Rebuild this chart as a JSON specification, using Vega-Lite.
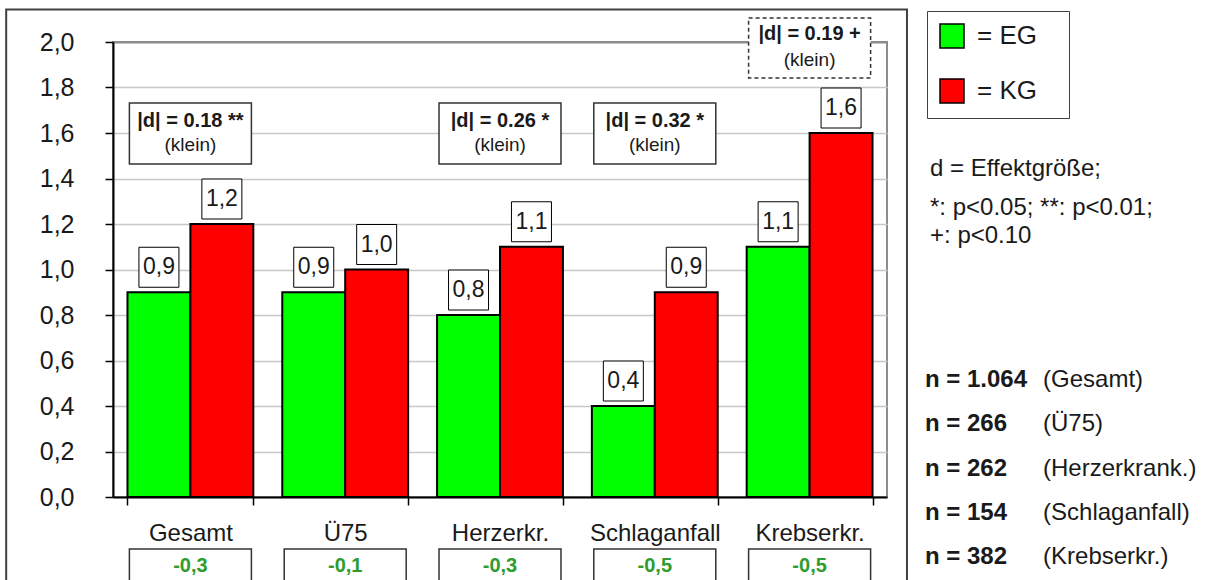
{
  "$schema": "https://vega.github.io/schema/vega-lite/v6.json",
  "width": 774,
  "height": 455,
  "autosize": "none",
  "padding": {"left": 113, "top": 42, "right": 320, "bottom": 83},
  "background": "white",
  "config": {
    "locale": {"number": {"decimal": ",", "thousands": ".", "grouping": [3], "currency": ["", " €"], "minus": "-"}},
    "view": {"stroke": "#8c8c8c", "strokeWidth": 2},
    "font": "Liberation Sans"
  },
  "datasets": {
    "vals": [
      {"cat": "Gesamt", "grp": "EG", "v": 0.9},
      {"cat": "Gesamt", "grp": "KG", "v": 1.2},
      {"cat": "Ü75", "grp": "EG", "v": 0.9},
      {"cat": "Ü75", "grp": "KG", "v": 1.0},
      {"cat": "Herzerkr.", "grp": "EG", "v": 0.8},
      {"cat": "Herzerkr.", "grp": "KG", "v": 1.1},
      {"cat": "Schlaganfall", "grp": "EG", "v": 0.4},
      {"cat": "Schlaganfall", "grp": "KG", "v": 0.9},
      {"cat": "Krebserkr.", "grp": "EG", "v": 1.1},
      {"cat": "Krebserkr.", "grp": "KG", "v": 1.6}
    ],
    "eff": [
      {"cat": "Gesamt", "d": "|d| = 0.18 **", "size": "(klein)"},
      {"cat": "Herzerkr.", "d": "|d| = 0.26 *", "size": "(klein)"},
      {"cat": "Schlaganfall", "d": "|d| = 0.32 *", "size": "(klein)"}
    ],
    "effTrend": [
      {"cat": "Krebserkr.", "d": "|d| = 0.19 +", "size": "(klein)"}
    ],
    "diff": [
      {"cat": "Gesamt", "diff": -0.3},
      {"cat": "Ü75", "diff": -0.1},
      {"cat": "Herzerkr.", "diff": -0.3},
      {"cat": "Schlaganfall", "diff": -0.5},
      {"cat": "Krebserkr.", "diff": -0.5}
    ],
    "ns": [
      {"cat": "Gesamt", "n": "n = 1.064", "grp": "(Gesamt)"},
      {"cat": "Ü75", "n": "n = 266", "grp": "(Ü75)"},
      {"cat": "Herzerkr.", "n": "n = 262", "grp": "(Herzerkrank.)"},
      {"cat": "Schlaganfall", "n": "n = 154", "grp": "(Schlaganfall)"},
      {"cat": "Krebserkr.", "n": "n = 382", "grp": "(Krebserkr.)"}
    ]
  },
  "resolve": {"scale": {"x": "independent", "y": "independent"}},
  "layer": [
    {
      "data": {"values": [{}]},
      "mark": {"type": "rect", "fill": "transparent", "stroke": "#404040", "strokeWidth": 2},
      "encoding": {
        "x": {"datum": -0.69, "type": "quantitative", "scale": {"domain": [0, 5]}, "axis": null},
        "x2": {"datum": 5.129},
        "y": {"datum": -0.45, "type": "quantitative", "scale": {"domain": [0, 2]}, "axis": null},
        "y2": {"datum": 2.143}
      }
    },
    {
      "layer": [
        {
          "data": {"name": "vals"},
          "mark": {"type": "bar", "stroke": "black", "strokeWidth": 2, "opacity": 1},
          "encoding": {
            "x": {
              "field": "cat", "type": "nominal",
              "scale": {"domain": ["Gesamt", "Ü75", "Herzerkr.", "Schlaganfall", "Krebserkr."], "paddingInner": 0.187, "paddingOuter": 0.0935},
              "axis": {"title": null, "labelAngle": 0, "labelFontSize": 24, "labelColor": "#1a1a1a", "labelPadding": 16, "tickBand": "extent", "ticks": true, "tickSize": 8, "tickColor": "black", "tickWidth": 1.5, "domainColor": "black", "domainWidth": 2, "grid": false}
            },
            "xOffset": {"field": "grp", "type": "nominal", "scale": {"domain": ["EG", "KG"], "paddingInner": 0, "paddingOuter": 0}},
            "y": {
              "field": "v", "type": "quantitative",
              "scale": {"domain": [0, 2]},
              "axis": {"title": null, "values": [0, 0.2, 0.4, 0.6, 0.8, 1.0, 1.2, 1.4, 1.6, 1.8, 2.0], "format": ".1f", "labelFontSize": 25, "labelColor": "#1a1a1a", "labelPadding": 31, "ticks": true, "tickSize": 8, "tickColor": "black", "tickWidth": 1.5, "domainColor": "black", "domainWidth": 2, "grid": true, "gridColor": {"condition": {"test": "datum.value >= 2", "value": "#8c8c8c"}, "value": "#c8c8c8"}, "gridWidth": {"condition": {"test": "datum.value >= 2", "value": 2}, "value": 1.5}}
            },
            "color": {
              "field": "grp", "type": "nominal",
              "scale": {"domain": ["EG", "KG"], "range": ["#00ff00", "#ff0000"]},
              "legend": {"orient": "none", "legendX": 814, "legendY": -31, "title": "xx", "titleOrient": "right", "titleColor": "transparent", "titleFontSize": 14, "titlePadding": 4, "direction": "vertical", "symbolType": "square", "symbolSize": 576, "symbolStrokeColor": "black", "symbolStrokeWidth": 1.5, "symbolOpacity": 1, "labelFontSize": 26, "labelColor": "#1a1a1a", "labelOffset": 12, "padding": 12, "rowPadding": 25, "strokeColor": "#404040", "fillColor": "white", "labelExpr": "'= ' + datum.label"}
            }
          }
        },
        {
          "data": {"name": "vals"},
          "mark": {"type": "point", "shape": "square", "size": 1600, "filled": true, "fill": "white", "stroke": "black", "strokeWidth": 1, "opacity": 1, "yOffset": -25},
          "encoding": {
            "x": {"field": "cat", "type": "nominal", "scale": {"domain": ["Gesamt", "Ü75", "Herzerkr.", "Schlaganfall", "Krebserkr."]}},
            "xOffset": {"field": "grp", "type": "nominal"},
            "y": {"field": "v", "type": "quantitative"}
          }
        },
        {
          "data": {"name": "vals"},
          "mark": {"type": "text", "font": "Liberation Sans Narrow, Arial Narrow, Liberation Sans", "fontSize": 23, "color": "#1a1a1a", "baseline": "middle", "align": "center", "yOffset": -25},
          "encoding": {
            "x": {"field": "cat", "type": "nominal", "scale": {"domain": ["Gesamt", "Ü75", "Herzerkr.", "Schlaganfall", "Krebserkr."]}},
            "xOffset": {"field": "grp", "type": "nominal"},
            "y": {"field": "v", "type": "quantitative"},
            "text": {"field": "v", "type": "quantitative", "format": ".1f"}
          }
        }
      ]
    },
    {
      "layer": [
        {
          "data": {"name": "eff"},
          "mark": {"type": "bar", "width": 122, "fill": "white", "stroke": "#333333", "strokeWidth": 1.5},
          "encoding": {
            "x": {"field": "cat", "type": "nominal", "scale": {"domain": ["Gesamt", "Ü75", "Herzerkr.", "Schlaganfall", "Krebserkr."], "paddingInner": 0.187, "paddingOuter": 0.0935}, "axis": null},
            "y": {"datum": 1.464, "type": "quantitative", "scale": {"domain": [0, 2]}, "axis": null},
            "y2": {"datum": 1.732}
          }
        },
        {
          "data": {"name": "eff"},
          "mark": {"type": "text", "fontSize": 20, "fontWeight": "bold", "color": "#1a1a1a", "baseline": "middle", "align": "center"},
          "encoding": {
            "x": {"field": "cat", "type": "nominal"},
            "y": {"datum": 1.653, "type": "quantitative"},
            "text": {"field": "d"}
          }
        },
        {
          "data": {"name": "eff"},
          "mark": {"type": "text", "fontSize": 19, "color": "#1a1a1a", "baseline": "middle", "align": "center"},
          "encoding": {
            "x": {"field": "cat", "type": "nominal"},
            "y": {"datum": 1.547, "type": "quantitative"},
            "text": {"field": "size"}
          }
        },
        {
          "data": {"name": "effTrend"},
          "mark": {"type": "bar", "width": 122, "fill": "white", "stroke": "#333333", "strokeWidth": 1.5, "strokeDash": [4, 3]},
          "encoding": {
            "x": {"field": "cat", "type": "nominal"},
            "y": {"datum": 1.842, "type": "quantitative"},
            "y2": {"datum": 2.105}
          }
        },
        {
          "data": {"name": "effTrend"},
          "mark": {"type": "text", "fontSize": 20, "fontWeight": "bold", "color": "#1a1a1a", "baseline": "middle", "align": "center"},
          "encoding": {
            "x": {"field": "cat", "type": "nominal"},
            "y": {"datum": 2.035, "type": "quantitative"},
            "text": {"field": "d"}
          }
        },
        {
          "data": {"name": "effTrend"},
          "mark": {"type": "text", "fontSize": 19, "color": "#1a1a1a", "baseline": "middle", "align": "center"},
          "encoding": {
            "x": {"field": "cat", "type": "nominal"},
            "y": {"datum": 1.921, "type": "quantitative"},
            "text": {"field": "size"}
          }
        },
        {
          "data": {"name": "diff"},
          "mark": {"type": "bar", "width": 122, "fill": "white", "stroke": "#333333", "strokeWidth": 1.5},
          "encoding": {
            "x": {"field": "cat", "type": "nominal"},
            "y": {"datum": -0.45, "type": "quantitative"},
            "y2": {"datum": -0.2286}
          }
        },
        {
          "data": {"name": "diff"},
          "mark": {"type": "text", "fontSize": 20, "fontWeight": "bold", "color": "#2e9c2e", "baseline": "middle", "align": "center"},
          "encoding": {
            "x": {"field": "cat", "type": "nominal"},
            "y": {"datum": -0.303, "type": "quantitative"},
            "text": {"field": "diff", "type": "quantitative", "format": ".1f"}
          }
        }
      ]
    },
    {
      "data": {"values": [{}]},
      "mark": {"type": "text", "align": "left", "baseline": "middle", "fontSize": 24, "color": "#1a1a1a", "text": "d = Effektgröße;"},
      "encoding": {
        "x": {"datum": 5.278, "type": "quantitative", "scale": {"domain": [0, 5]}, "axis": null},
        "y": {"datum": 1.442, "type": "quantitative", "scale": {"domain": [0, 2]}, "axis": null}
      }
    },
    {
      "data": {"values": [{}]},
      "mark": {"type": "text", "align": "left", "baseline": "middle", "fontSize": 24, "lineHeight": 28, "color": "#1a1a1a", "text": ["*: p<0.05; **: p<0.01;", "+: p<0.10"]},
      "encoding": {
        "x": {"datum": 5.278, "type": "quantitative", "scale": {"domain": [0, 5]}, "axis": null},
        "y": {"datum": 1.270, "type": "quantitative", "scale": {"domain": [0, 2]}, "axis": null}
      }
    },
    {
      "data": {"name": "ns"},
      "layer": [
        {
          "mark": {"type": "text", "align": "left", "baseline": "middle", "fontSize": 24, "fontWeight": "bold", "color": "#1a1a1a"},
          "encoding": {
            "x": {"datum": 5.245, "type": "quantitative", "scale": {"domain": [0, 5]}, "axis": null},
            "y": {"field": "cat", "type": "nominal", "scale": {"type": "point", "domain": ["Gesamt", "Ü75", "Herzerkr.", "Schlaganfall", "Krebserkr."], "range": [338, 515], "padding": 0}, "axis": null},
            "text": {"field": "n"}
          }
        },
        {
          "mark": {"type": "text", "align": "left", "baseline": "middle", "fontSize": 24, "color": "#1a1a1a"},
          "encoding": {
            "x": {"datum": 6.008, "type": "quantitative", "scale": {"domain": [0, 5]}, "axis": null},
            "y": {"field": "cat", "type": "nominal", "scale": {"type": "point", "domain": ["Gesamt", "Ü75", "Herzerkr.", "Schlaganfall", "Krebserkr."], "range": [338, 515], "padding": 0}, "axis": null},
            "text": {"field": "grp"}
          }
        }
      ]
    }
  ]
}
